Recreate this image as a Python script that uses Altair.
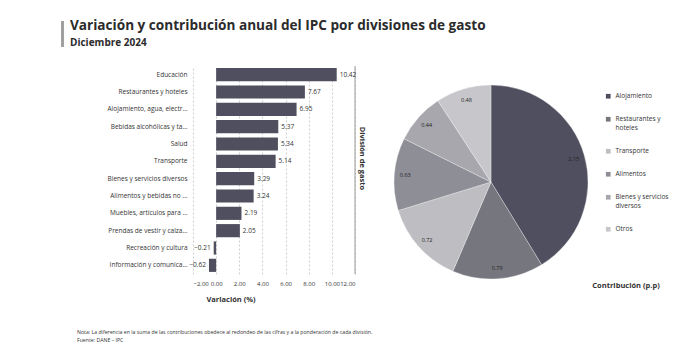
import altair as alt
import pandas as pd

# ---------------- data ----------------
divisiones = [
    "Educación",
    "Restaurantes y hoteles",
    "Alojamiento, agua, electricidad, gas y otros combustibles",
    "Bebidas alcohólicas y tabaco",
    "Salud",
    "Transporte",
    "Bienes y servicios diversos",
    "Alimentos y bebidas no alcohólicas",
    "Muebles, artículos para el hogar y para la conservación ordinaria del hogar",
    "Prendas de vestir y calzado",
    "Recreación y cultura",
    "Información y comunicación",
]
variacion = [10.42, 7.67, 6.95, 5.37, 5.34, 5.14, 3.29, 3.24, 2.19, 2.05, -0.21, -0.62]
x_ticks = [-2, 0, 2, 4, 6, 8, 10, 12]
x_borde = [12]

grupos = ["Alojamiento", "Restaurantes y hoteles", "Transporte", "Alimentos",
          "Bienes y servicios diversos", "Otros"]
contribucion = [2.15, 0.79, 0.72, 0.63, 0.44, 0.48]
colores = ["#4f4f5f", "#76767f", "#bdbdc2", "#8e8e97", "#a7a7ad", "#c7c7cb"]

titulo = "Variación y contribución anual del IPC por divisiones de gasto"
subtitulo = "Diciembre 2024"
eje_x = "Variación (%)"
eje_y = "División de gasto"
eje_pie = "Contribución (p.p)"
nota = "Nota: La diferencia en la suma de las contribuciones obedece al redondeo de las cifras y a la ponderación de cada división."
fuente = "Fuente: DANE – IPC"

FONT = "Open Sans"
W, H = 162, 208

bars_df = pd.DataFrame({"division": divisiones, "variacion": variacion})
pie_df = pd.DataFrame({"grupo": grupos, "contrib": contribucion, "orden": list(range(len(grupos)))})

x_enc = alt.X("variacion:Q",
              scale=alt.Scale(domain=[-2, 12], nice=False, zero=False),
              axis=alt.Axis(values=x_ticks, format=".2f", title=None, labelFontSize=6,
                            labelColor="#333", labelFont=FONT, grid=True, gridDash=[2, 2],
                            gridColor="#cfcfcf", domain=False, ticks=False, labelPadding=6,
                            labelOverlap=False))
y_enc = alt.Y("division:N", sort=divisiones,
              scale=alt.Scale(paddingInner=0.24, paddingOuter=0.12),
              axis=alt.Axis(title=None, labelFontSize=6.5, labelColor="#333", labelFont=FONT,
                            labelLimit=80, domain=False, ticks=False, labelPadding=6))

base_bar = alt.Chart(bars_df).encode(x=x_enc, y=y_enc)
bars = base_bar.mark_bar(color="#4f4f5f")
lab_pos = base_bar.transform_filter("datum.variacion >= 0").mark_text(
    align="left", dx=3, fontSize=6.5, font=FONT, color="#333").encode(
    text=alt.Text("variacion:Q", format=".2f"))
lab_neg = base_bar.transform_filter("datum.variacion < 0").mark_text(
    align="right", dx=-3, fontSize=6.5, font=FONT, color="#333").encode(
    text=alt.Text("variacion:Q", format=".2f"))

right_rule = alt.Chart(pd.DataFrame({"variacion": x_borde})).mark_rule(
    color="#9a9a9a", strokeWidth=1).encode(x=x_enc)

def txt(text, x, y, size, weight="normal", align="left", angle=None, color="#333", baseline="middle"):
    kw = dict(align=align, baseline=baseline, fontSize=size, fontWeight=weight, font=FONT, color=color)
    if angle is not None:
        kw["angle"] = angle
    return alt.Chart(pd.DataFrame({"t": [text]})).mark_text(**kw).encode(
        x=alt.value(x), y=alt.value(y), text="t:N")

# pie
base_pie = alt.Chart(pie_df).encode(
    theta=alt.Theta("contrib:Q", stack=True),
    order=alt.Order("orden:Q"),
    x=alt.value(298), y=alt.value(116))
arc = base_pie.mark_arc(outerRadius=97, stroke="#ffffff", strokeWidth=0.3).encode(
    color=alt.Color("grupo:N", scale=alt.Scale(domain=grupos, range=colores),
                    legend=alt.Legend(orient="none", legendX=412, legendY=27, title=None,
                                      labelFontSize=6.5, labelFont=FONT, labelColor="#333",
                                      symbolType="square", symbolSize=22, symbolStrokeWidth=0,
                                      rowPadding=16, labelOffset=4,
                                      labelExpr="datum.label == 'Restaurantes y hoteles' ? ['Restaurantes y', 'hoteles'] : datum.label == 'Bienes y servicios diversos' ? ['Bienes y servicios', 'diversos'] : datum.label")))
pie_labels = base_pie.mark_text(radius=86, fontSize=5.5, font=FONT, color="#222").encode(
    text=alt.Text("contrib:Q", format=".2f"))

title_bar = alt.Chart(pd.DataFrame({"a": [0]})).mark_rule(color="#a0a0a0", strokeWidth=3).encode(
    x=alt.value(-130.5), y=alt.value(-45), y2=alt.value(-19))

chart = alt.layer(
    bars, right_rule, lab_pos, lab_neg, arc, pie_labels, title_bar,
    txt(titulo, -123, -36, 13.6, "bold", baseline="alphabetic", color="#2b2b2b"),
    txt(subtitulo, -123, -20, 10, "bold", baseline="alphabetic", color="#2b2b2b"),
    txt(eje_x, 38, 234, 7.5, "bold", align="center"),
    txt(eje_y, 168.5, 92.5, 7.5, "bold", align="center", angle=90),
    txt(eje_pie, 433, 219.5, 7.5, "bold", align="center"),
    txt(nota, -116, 265.5, 5.2),
    txt(fuente, -116, 273.5, 5.2),
).properties(
    width=W, height=H, padding={"left": 53, "top": 11, "right": 5, "bottom": 0}
).configure_view(stroke=None)

chart.save("out.html", embed_options={"renderer": "svg", "actions": False})
